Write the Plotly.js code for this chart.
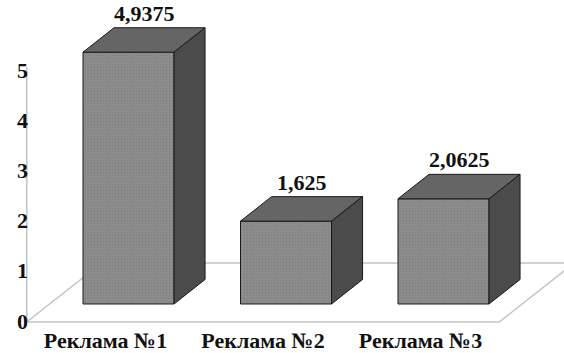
<!DOCTYPE html>
<html>
<head>
<meta charset="utf-8">
<script src="https://cdn.plot.ly/plotly-3.0.1.min.js"></script>
<style>
  html, body { margin: 0; padding: 0; background: #ffffff; }
  #chart { width: 564px; height: 353px; }
</style>
</head>
<body>
<div id="chart"></div>
<script>
// Data
const categories = ['Реклама №1', 'Реклама №2', 'Реклама №3'];
const values = [4.9375, 1.625, 2.0625];
const axisTicks = [0, 1, 2, 3, 4, 5];

// Oblique 3D look: column depth and floor offsets, in axis units
const BAR_W = 0.578;          // front face width (x units)
const BAR_DX = 0.197;         // column depth, horizontal shift
const BAR_DY = 0.48;          // column depth, vertical shift
const FLOOR_FRONT = {dx: -0.146, dy: -0.353};
const FLOOR_BACK = {dx: 0.33, dy: 0.804};

const FRONT = '#8c8c8c', TOP = '#656565', SIDE = '#4b4b4b', EDGE = '#1a1a1a';
const GRID = '#c4c4c4';
const FONT = {family: 'Liberation Serif', size: 22, color: '#111111', weight: 700};

const idx = categories.map((_, i) => i);
const half = BAR_W / 2;

const traces = [];

// Front faces of the columns
traces.push({
  type: 'bar',
  x: idx,
  y: values,
  width: BAR_W,
  marker: {
    color: FRONT,
    line: {color: EDGE, width: 1},
    pattern: {shape: '.', size: 3, solidity: 0.2, fgcolor: '#808080', bgcolor: FRONT, fillmode: 'replace'}
  },
  hoverinfo: 'skip',
  showlegend: false
});

// Top and side faces, built from each value
values.forEach((v, i) => {
  const l = i - half, r = i + half;
  traces.push({
    type: 'scatter', mode: 'lines', fill: 'toself',
    x: [l, r, r + BAR_DX, l + BAR_DX, l],
    y: [v, v, v + BAR_DY, v + BAR_DY, v],
    fillcolor: TOP, line: {color: EDGE, width: 1},
    hoverinfo: 'skip', showlegend: false
  });
  traces.push({
    type: 'scatter', mode: 'lines', fill: 'toself',
    x: [r, r + BAR_DX, r + BAR_DX, r, r],
    y: [0, BAR_DY, v + BAR_DY, v, 0],
    fillcolor: SIDE, line: {color: EDGE, width: 1},
    hoverinfo: 'skip', showlegend: false
  });
});

// Invisible trace so the value axis on the front plane gets drawn
traces.push({
  type: 'scatter', mode: 'markers', x: [null], y: [null], yaxis: 'y2',
  hoverinfo: 'skip', showlegend: false
});

// Floor outline (front, right, back, left edges)
const x0 = -0.5, x1 = categories.length - 0.5;
const fl = [x0 + FLOOR_FRONT.dx, FLOOR_FRONT.dy];
const fr = [x1 + FLOOR_FRONT.dx, FLOOR_FRONT.dy];
const br = [x1 + FLOOR_BACK.dx, FLOOR_BACK.dy];
const bl = [x0 + FLOOR_BACK.dx, FLOOR_BACK.dy];
const floorPath = `M ${fl[0]},${fl[1]} L ${fr[0]},${fr[1]} L ${br[0]},${br[1]} L ${bl[0]},${bl[1]} Z`;

const shapes = [
  {type: 'path', xref: 'x', yref: 'y', path: floorPath, layer: 'below',
   line: {color: GRID, width: 1.5}},
  // value axis line rising from the front-left floor corner
  {type: 'line', xref: 'x', yref: 'y2', x0: fl[0], x1: fl[0], y0: -0.02, y1: 5.06, layer: 'below',
   line: {color: GRID, width: 1.5}}
];

// Value labels above each column
const annotations = values.map((v, i) => ({
  x: i + BAR_DX / 2,
  y: v + BAR_DY,
  xref: 'x', yref: 'y',
  text: String(v).replace('.', ','),
  showarrow: false,
  yanchor: 'bottom',
  yshift: 0,
  font: FONT
}));

const layout = {
  width: 564, height: 353,
  margin: {l: 0, r: 0, t: 0, b: 28},
  paper_bgcolor: '#ffffff', plot_bgcolor: '#ffffff',
  showlegend: false,
  xaxis: {
    range: [-0.816, 2.765],
    tickvals: idx.map(i => i + FLOOR_FRONT.dx),
    ticktext: categories,
    tickfont: FONT,
    ticks: '', showgrid: false, zeroline: false, showline: false,
    fixedrange: true
  },
  yaxis: {
    range: [-0.412, 5.961],
    visible: false, showgrid: false, zeroline: false, fixedrange: true
  },
  yaxis2: {
    overlaying: 'y', anchor: 'free', position: 28 / 564, side: 'left',
    range: [-0.08, 6.394],
    tickvals: axisTicks,
    tickfont: FONT,
    ticks: '', showgrid: false, zeroline: false, showline: false,
    fixedrange: true
  },
  shapes: shapes,
  annotations: annotations
};

Plotly.newPlot('chart', traces, layout, {staticPlot: true, displayModeBar: false});
</script>
</body>
</html>
